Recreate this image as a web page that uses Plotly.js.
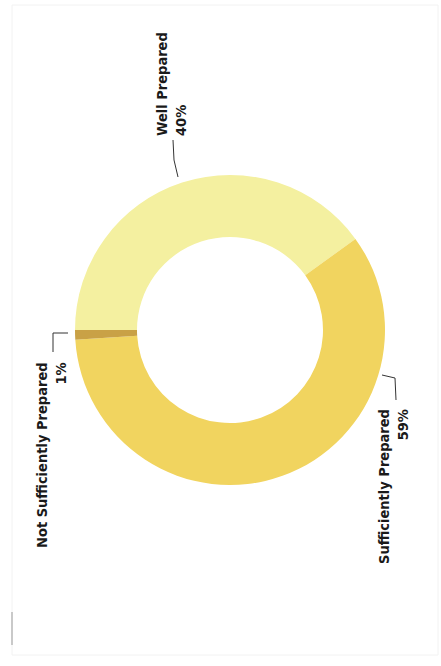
<!DOCTYPE html>
<html>
<head>
<meta charset="utf-8">
<script src="https://cdn.plot.ly/plotly-3.0.1.min.js"></script>
<style>html,body{margin:0;padding:0;background:#fff;}#chart{width:441px;height:666px;}</style>
</head>
<body>
<div id="chart"></div>
<script>
const categories = ["Well Prepared", "Sufficiently Prepared", "Not Sufficiently Prepared"];
const values = [40, 59, 1];
const labelsText = ["Well Prepared<br>40%", "Sufficiently Prepared<br>59%", "Not Sufficiently Prepared<br>1%"];
const colors = ["#f4f0a0", "#f1d45f", "#c9a146"];

const W = 441, H = 666;
const px = x => x / W;
const py = y => (H - y) / H;

const trace = {
  type: "pie",
  labels: categories,
  values: values,
  hole: 0.6,
  sort: false,
  direction: "clockwise",
  rotation: 270,
  textinfo: "none",
  hoverinfo: "none",
  marker: { colors: colors, line: { width: 0 } },
  domain: { x: [px(75), px(385)], y: [py(485), py(175)] },
  showlegend: false
};

const font = { family: "DejaVu Sans Condensed, Liberation Sans Narrow, sans-serif", size: 14.5, color: "#1a1a1a", weight: "bold" };

const annotations = [
  { x: px(171), y: py(84), text: labelsText[0], align: "left" },
  { x: px(393), y: py(487), text: labelsText[1], align: "right" },
  { x: px(51), y: py(455), text: labelsText[2], align: "right" }
].map(a => Object.assign({ xref: "paper", yref: "paper", showarrow: false, textangle: -90, xanchor: "center", yanchor: "middle", font: font }, a));

const lineStyle = { color: "#333", width: 1 };
const shapes = [
  { type: "path", xref: "paper", yref: "paper", path: `M ${px(173)} ${py(140)} L ${px(174)} ${py(160)} L ${px(178)} ${py(177)}`, line: lineStyle },
  { type: "path", xref: "paper", yref: "paper", path: `M ${px(68)} ${py(333)} L ${px(53)} ${py(333)} L ${px(53)} ${py(352)}`, line: lineStyle },
  { type: "path", xref: "paper", yref: "paper", path: `M ${px(382)} ${py(375)} L ${px(395)} ${py(378)} L ${px(396)} ${py(400)}`, line: lineStyle },
  { type: "rect", xref: "paper", yref: "paper", x0: px(12), x1: px(438), y0: py(655), y1: py(5), line: { color: "#f2f2f2", width: 1 } },
  { type: "line", xref: "paper", yref: "paper", x0: px(12), x1: px(12), y0: py(612), y1: py(645), line: { color: "#999", width: 1 } }
];

const layout = {
  width: W, height: H,
  margin: { l: 0, r: 0, t: 0, b: 0 },
  paper_bgcolor: "#ffffff",
  plot_bgcolor: "#ffffff",
  annotations: annotations,
  shapes: shapes
};

Plotly.newPlot("chart", [trace], layout, { displayModeBar: false, staticPlot: true });
</script>
</body>
</html>
